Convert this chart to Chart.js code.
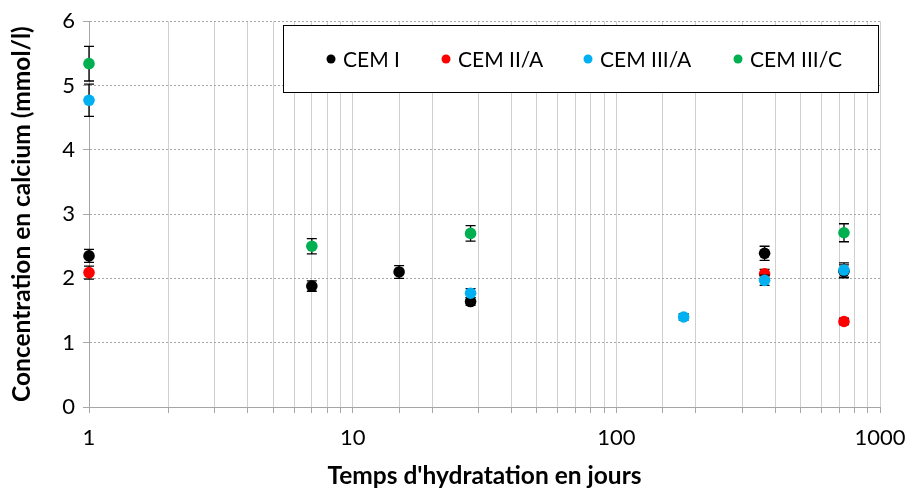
<!DOCTYPE html>
<html>
<head>
<meta charset="utf-8">
<script src="https://cdn.jsdelivr.net/npm/chart.js@4/dist/chart.umd.min.js"></script>
<style>
  html, body { margin: 0; padding: 0; background: #fff; }
</style>
</head>
<body>
<canvas id="graphiqueCalcium" width="908" height="488"></canvas>
<script>
// Données (x en jours, y en mmol/l, erreur = demi-barre)
const series = ['CEM I', 'CEM II/A', 'CEM III/A', 'CEM III/C'];
const couleurs = ['#000000', '#ff0000', '#00b0f0', '#00b050'];

const cemI_jours = [1, 7, 15, 28, 365, 730];
const cemI_ca = [2.35, 1.88, 2.10, 1.64, 2.39, 2.11];
const cemI_err = [0.10, 0.08, 0.10, 0.06, 0.11, 0.10];

const cemIIA_jours = [1, 365, 730];
const cemIIA_ca = [2.09, 2.07, 1.33];
const cemIIA_err = [0.10, 0.07, 0.05];

const cemIIIA_jours = [1, 28, 180, 365, 730];
const cemIIIA_ca = [4.77, 1.77, 1.40, 1.97, 2.13];
const cemIIIA_err = [0.25, 0.07, 0.05, 0.08, 0.11];

const cemIIIC_jours = [1, 7, 28, 730];
const cemIIIC_ca = [5.34, 2.50, 2.70, 2.71];
const cemIIIC_err = [0.27, 0.12, 0.12, 0.14];

const joursParSerie = [cemI_jours, cemIIA_jours, cemIIIA_jours, cemIIIC_jours];
const caParSerie = [cemI_ca, cemIIA_ca, cemIIIA_ca, cemIIIC_ca];
const errParSerie = [cemI_err, cemIIA_err, cemIIIA_err, cemIIIC_err];

const yTicks = [0, 1, 2, 3, 4, 5, 6];
const xEtiquettes = [1, 10, 100, 1000];

const police = "Lato, 'Noto Sans', sans-serif";

// barres d'erreur, dessinées sous les marqueurs de chaque série
const barresErreur = {
  id: 'barresErreur',
  beforeDatasetDraw(chart, args) {
    const i = args.index;
    const err = errParSerie[i];
    const ctx = chart.ctx;
    const sx = chart.scales.x, sy = chart.scales.y;
    ctx.save();
    ctx.strokeStyle = '#000';
    ctx.lineWidth = 1.3;
    chart.data.datasets[i].data.forEach((p, k) => {
      const px = sx.getPixelForValue(p.x);
      const haut = sy.getPixelForValue(p.y + err[k]);
      const bas = sy.getPixelForValue(p.y - err[k]);
      ctx.beginPath();
      ctx.moveTo(px, haut); ctx.lineTo(px, bas);
      ctx.moveTo(px - 5, haut); ctx.lineTo(px + 5, haut);
      ctx.moveTo(px - 5, bas); ctx.lineTo(px + 5, bas);
      ctx.stroke();
    });
    ctx.restore();
  }
};

// légende encadrée dans la zone du graphique
const legendeEncadree = {
  id: 'legendeEncadree',
  beforeDatasetsDraw(chart) {
    const ctx = chart.ctx;
    const g = 283, h = 25, d = 879, b = 93;
    ctx.save();
    ctx.fillStyle = '#fff';
    ctx.fillRect(g, h, d - g, b - h);
    ctx.strokeStyle = '#000';
    ctx.lineWidth = 1;
    ctx.strokeRect(g + 0.5, h + 0.5, d - g - 1, b - h - 1);
    const xs = [331, 446, 588, 738];
    const yc = 59;
    ctx.font = '21px ' + police;
    ctx.textBaseline = 'middle';
    chart.data.datasets.forEach((ds, i) => {
      ctx.beginPath();
      ctx.fillStyle = ds.backgroundColor;
      ctx.arc(xs[i], yc, 4.5, 0, Math.PI * 2);
      ctx.fill();
      ctx.fillStyle = '#000';
      ctx.fillText(ds.label, xs[i] + 12, yc + 1);
    });
    ctx.restore();
  }
};

new Chart(document.getElementById('graphiqueCalcium'), {
  type: 'scatter',
  data: {
    datasets: series.map((nom, i) => ({
      label: nom,
      data: joursParSerie[i].map((j, k) => ({ x: j, y: caParSerie[i][k] })),
      backgroundColor: couleurs[i],
      borderColor: couleurs[i],
      pointRadius: 5.8,
      pointHoverRadius: 5.8,
      borderWidth: 0,
      clip: false,
      order: series.length - i
    }))
  },
  options: {
    responsive: false,
    animation: false,
    layout: { padding: { top: 20, right: 28, left: 0, bottom: 0 } },
    plugins: {
      legend: { display: false },
      tooltip: { enabled: false }
    },
    scales: {
      x: {
        type: 'logarithmic',
        min: 1,
        max: 1000,
        afterFit(s) { s.height = 81; s.paddingRight = 0; s.paddingLeft = 0; },
        grid: { color: '#d0d0d0', lineWidth: 1, tickLength: 6, tickColor: '#a6a6a6' },
        border: { color: '#a6a6a6', width: 1 },
        ticks: {
          autoSkip: false,
          maxRotation: 0,
          padding: 12,
          color: '#000',
          font: { family: police, size: 22 },
          callback: v => xEtiquettes.includes(v) ? String(v) : ''
        },
        title: {
          display: true,
          text: "Temps d'hydratation en jours",
          color: '#000',
          font: { family: police, size: 24.5, weight: 'bold', lineHeight: 1 },
          padding: { top: 0, bottom: 0 }
        }
      },
      y: {
        min: 0,
        max: 6,
        afterFit(s) { s.width = 89; },
        afterBuildTicks(s) { s.ticks = yTicks.map(v => ({ value: v })); },
        grid: { color: '#a6a6a6', lineWidth: 1, tickLength: 6, tickColor: '#a6a6a6' },
        border: { color: '#a6a6a6', width: 1, dash: [2, 2] },
        ticks: {
          padding: 8,
          color: '#000',
          font: { family: police, size: 22 }
        },
        title: {
          display: true,
          text: 'Concentration en calcium (mmol/l)',
          color: '#000',
          font: { family: police, size: 24.5, weight: 'bold', lineHeight: 1 },
          padding: { top: 10, bottom: 0 }
        }
      }
    }
  },
  plugins: [barresErreur, legendeEncadree]
});
</script>
</body>
</html>
